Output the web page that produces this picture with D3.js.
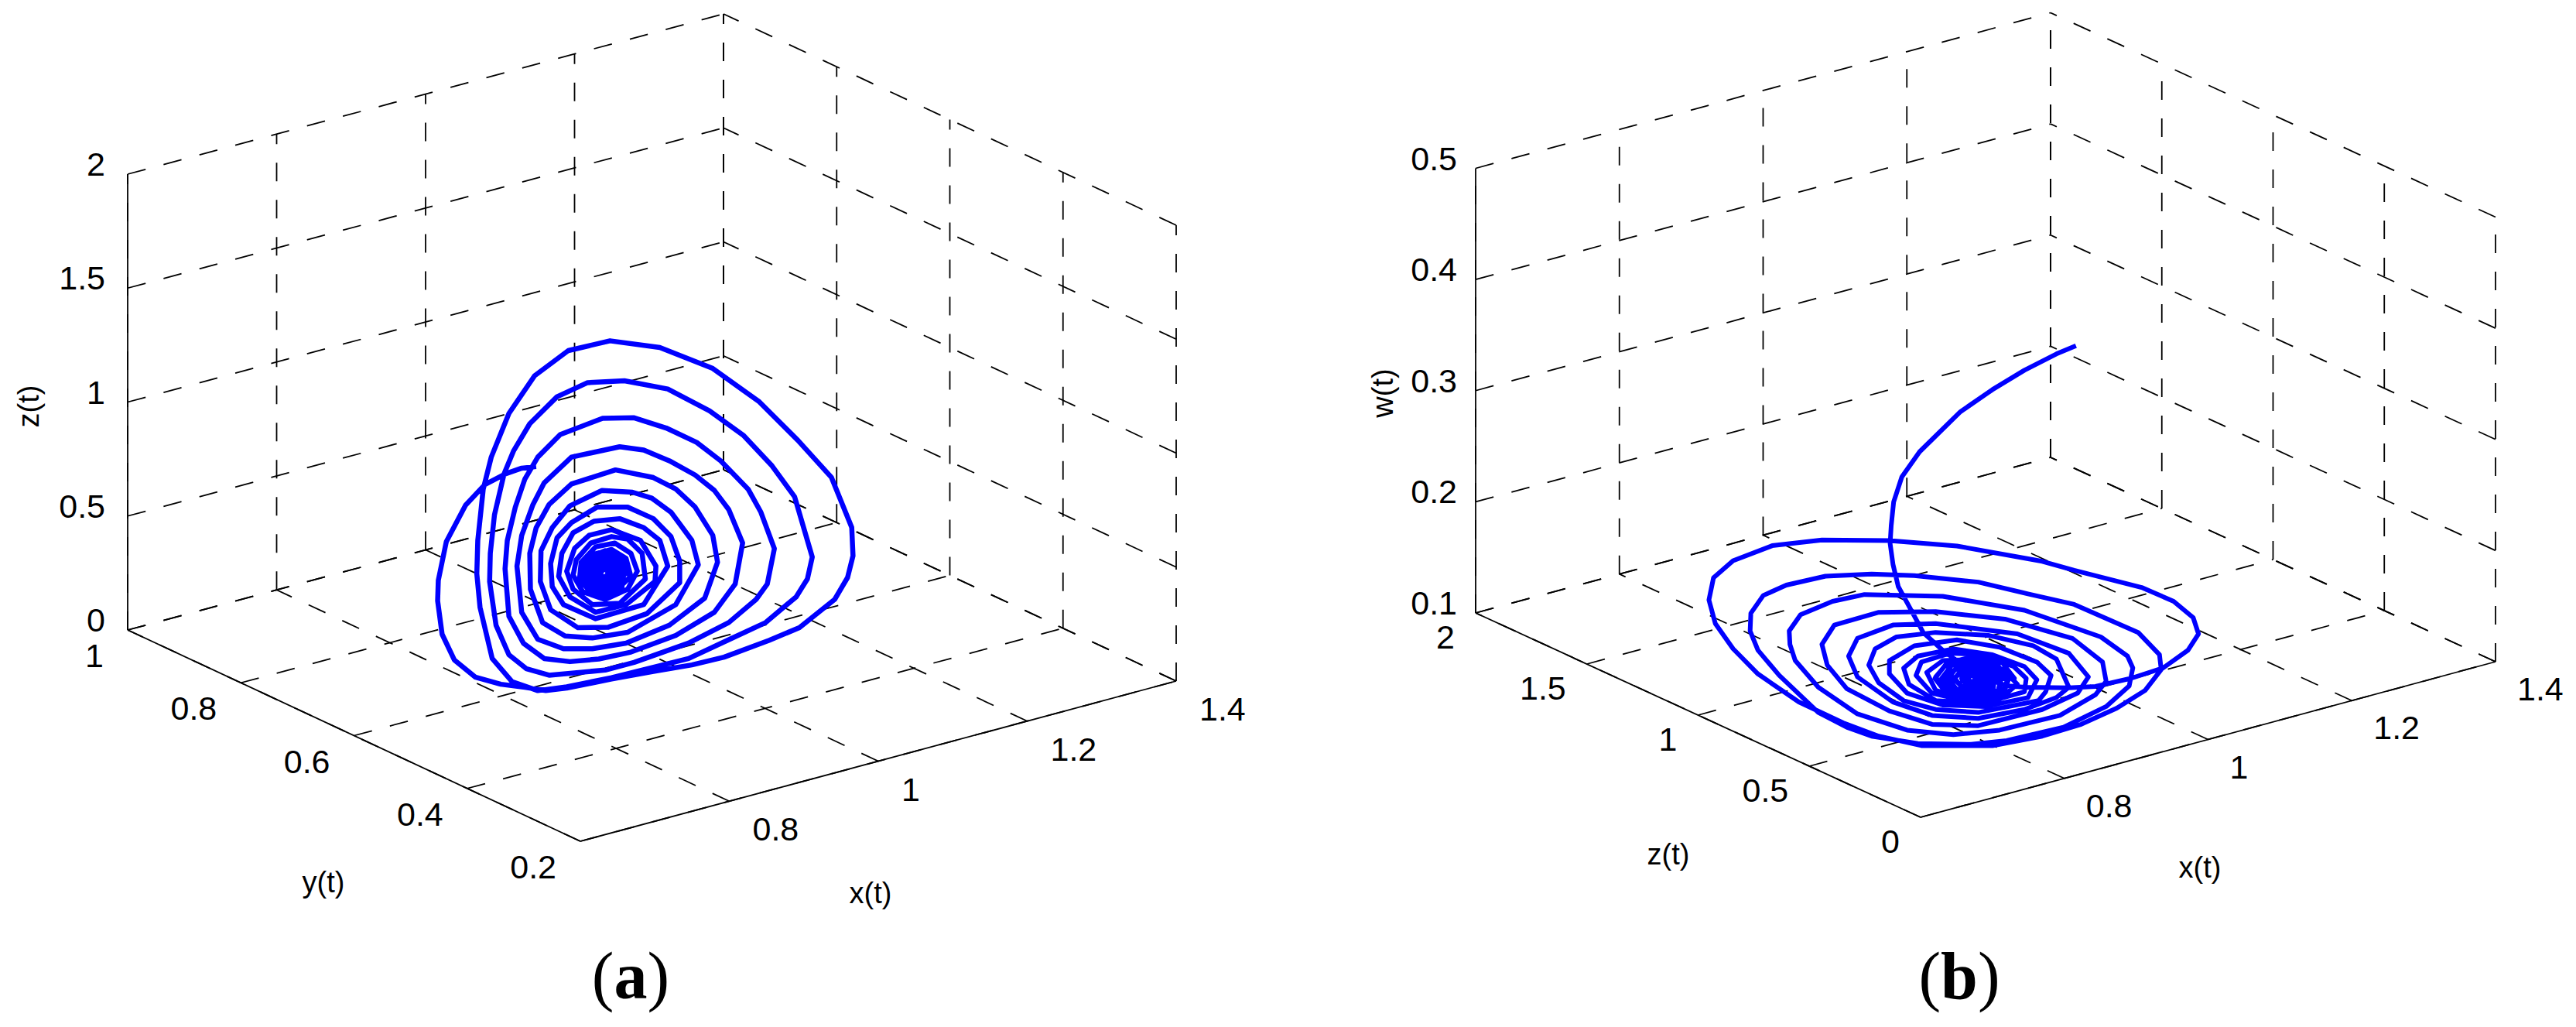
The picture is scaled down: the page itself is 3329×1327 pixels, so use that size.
<!DOCTYPE html>
<html>
<head>
<meta charset="utf-8">
<script src="https://cdn.jsdelivr.net/npm/d3@7/dist/d3.min.js"></script>
<style>
  html, body { margin: 0; padding: 0; background: #fff; }
  svg { display: block; }
  text { font-family: "Liberation Sans", Arial, sans-serif; fill: #000; }
  .panel-label { font-family: "Liberation Serif", serif; }
</style>
</head>
<body>
<svg id="chart" width="3329" height="1327"></svg>
<script>
// tick labels
var aXTicks = [0.6, 0.8, 1, 1.2, 1.4];
var aYTicks = [0.2, 0.4, 0.6, 0.8, 1];
var aZTicks = [0, 0.5, 1, 1.5, 2];
var bXTicks = [0.6, 0.8, 1, 1.2, 1.4];
var bZTicks = [0, 0.5, 1, 1.5, 2];
var bWTicks = [0.1, 0.2, 0.3, 0.4, 0.5];

// depth can't be read from one view, so y(t) and z(t) are held at one estimate
var aTraceY = 0.5;
var bTraceZ = 0.9;

var aTraceX = [
  .7686,.7492,.7277,.6997,.6738,.6479,.6372,.6363,.6423,.6587,.6867,.7212,.7535,.7815,.8096,.8699,.9259,.9777,1.0208,1.0811,1.1220,1.1694,1.1867,1.1940,1.1923,1.1651,1.1199,1.0682,1.0057,.9346,.8677,.8117,.7665,.7320,.7083,.6975,.6902,.6889,.6932,.7096,.7363,.7708,.8096,.8699,.9733,1.0251,1.0768,1.1177,1.1328,1.1393,1.1156,1.0854,1.0466,1.0014,.9453,.8871,.8376,.7966,.7600,.7384,.7255,.7126,.7070,.7061,.7147,.7320,.7557,.7859,.8613,.9001,.9733,1.0272,1.0639,1.0789,1.0884,1.0703,1.0531,1.0164,.9841,.9432,.9001,.8578,.8009,.7708,.7535,.7406,.7298,.7268,.7320,.7514,.7794,.8139,.8527,.8958,.9561,1.0078,1.0358,1.0458,1.0272,1.0078,.9820,.9475,.9130,.8807,.8160,.7794,.7643,.7492,.7428,.7492,.7708,.8053,.8440,.8893,.9475,.9949,1.0121,1.0057,.9820,.9561,.9259,.8751,.8160,.7859,.7686,.7600,.7609,.7772,.8074,.8440,.8915,.9561,.9863,.9777,.9496,.9238,.8979,.8570,.8139,.7902,.7751,.7742,.7880,.8246,.8656,.9173,.9613,.9613,.9496,.9259,.8915,.8505,.8160,.7966,.7880,.7902,.8053,.8484,.9130,.9453,.9346,.9130,.8807,.8462,.8182,.8031,.7988,.8139,.8484,.8893,.9281,.9294,.9087,.8699,.8397,.8203,.8096,.8182,.8440,.8807,.9152,.9108,.8915,.8699,.8419,.8225,.8182,.8311,.8613,.8915,.9044,.8958,.8742,.8484,.8290,.8268,.8440,.8721,.8958,.8893,.8699,.8440,.8311,.8376,.8613,.8850,.8828,.8656,.8462,.8397,.8527,.8721,.8764,.8634,.8505,.8548,.8677,.8634,
  .8925,.8831,.8613,.8395,.8301,.8395,.8613,.8831,
  .8863,.8787,.8613,.8439,.8363,.8439,.8613,.8787,
  .8800,.8744,.8613,.8482,.8426,.8482,.8613,.8744,
  .8738,.8700,.8613,.8526,.8488,.8526,.8613,.8700,
  .8675,.8657,.8613,.8569,.8551,.8569,.8613,.8657,
  .8634,.8613
];
var aTraceZ = [
  1.1481,1.1583,1.1525,1.1298,1.0624,.9241,.7646,.6753,.5236,.3966,.2966,.2348,.1930,.1538,.1404,.1270,.1116,.0944,.0904,.1107,.1311,.2133,.2939,.3831,.5086,.7520,.9549,1.1691,1.3703,1.5251,1.6129,1.6192,1.5486,1.4134,1.2426,1.1114,.8926,.7474,.5972,.3576,.2329,.1632,.1461,.1326,.1263,.1598,.1933,.2699,.3355,.4255,.7109,.8725,1.0417,1.1883,1.3331,1.4203,1.4558,1.4299,1.3437,1.2444,1.1544,.9856,.8216,.6984,.4995,.3549,.2722,.2175,.1740,.1736,.1939,.2367,.3059,.3603,.5074,.6831,.7995,.9556,1.0649,1.1639,1.2467,1.2816,1.2605,1.1878,1.1073,.9948,.8578,.7366,.5238,.3885,.2964,.2526,.2299,.2225,.2428,.2987,.3981,.5695,.7321,.8336,.9238,1.0161,1.0936,1.1365,1.1481,1.0677,.9852,.8633,.7339,.5255,.3884,.3165,.2825,.2676,.2954,.3720,.5146,.6384,.7831,.8846,.9618,1.0401,1.0299,.9663,.8801,.7751,.6167,.4560,.3709,.3298,.3130,.3779,.5259,.6405,.7890,.8735,.9221,.9659,.9361,.8612,.7732,.6387,.5028,.3919,.3582,.3725,.4691,.5648,.6820,.7816,.8625,.8984,.8610,.8106,.7055,.6022,.5102,.4105,.4157,.5562,.6783,.7535,.8212,.8402,.8142,.7373,.6398,.5364,.4386,.4365,.5038,.5702,.7010,.7823,.7840,.7447,.6528,.5665,.4762,.4496,.5264,.6428,.7217,.7519,.7483,.6921,.6284,.5438,.4836,.5022,.5697,.6560,.7199,.7257,.6752,.6039,.5212,.5023,.5547,.6392,.6956,.6958,.6451,.5719,.5230,.5529,.6224,.6712,.6601,.6151,.5587,.5586,.5998,.6394,.6281,.5849,.5849,.6112,
  .5688,.6483,.6981,.6867,.6236,.5441,.4943,.5057,
  .5743,.6379,.6777,.6686,.6181,.5545,.5147,.5238,
  .5798,.6275,.6573,.6505,.6126,.5649,.5351,.5419,
  .5852,.6171,.6370,.6324,.6072,.5753,.5554,.5600,
  .5907,.6066,.6166,.6143,.6017,.5858,.5758,.5781,
  .5944,.5962
];

var bTraceX = [
  1.0948,1.0676,1.0231,.9786,.9341,.8772,.8525,.8411,.8377,.8362,.8402,.8476,.8599,.8822,.9094,.9341,.9638,.9984,1.0231,1.0849,1.1220,1.1714,1.2159,1.2505,1.2653,
  1.2579,1.2307,1.1862,1.0923,1.0478,.9291,.8352,.7413,.6721,.6177,.5905,.5841,.5930,.6177,.6523,.7091,.7709,.8204,.8797,.9786,1.0478,1.1022,1.1516,1.1912,1.2134,
  1.2110,1.1813,1.0923,1.0280,.9588,.8698,.8105,.7462,.6918,.6597,.6424,.6414,.6523,.6819,.7363,.7759,.8105,.8748,.9489,.9984,1.0775,1.1368,1.1689,
  1.1739,1.1665,1.1294,1.0231,.9094,.8006,.7561,.7116,.6958,.6968,.7042,.7363,.7907,.8599,.9242,.9885,1.0725,1.1220,
  1.1368,1.1318,1.0898,.9959,.8995,.8204,.7586,.7413,.7487,.7759,.8352,.8945,.9588,1.0478,1.0972,
  1.1121,1.0849,1.0132,.8995,.8402,.7907,.7784,.7907,.8402,.8945,.9588,1.0231,1.0676,
  1.0849,1.0676,1.0354,.9736,.8995,.8451,.8154,.8065,.8204,.8550,.8995,.9588,1.0429,
  1.0527,1.0602,1.0404,.9885,.9291,.8698,.8352,.8352,.8599,.9094,.9687,1.0280,
  1.0404,1.0231,.9786,.9242,.8748,.8550,.8624,.8995,.9638,1.0231,
  1.0256,1.0082,.9638,.9193,.8797,.8723,.8945,.9390,.9885,
  1.0132,.9934,.9539,.9094,.8871,.8995,.9440,.9934,
  1.0008,.9786,.9440,.9118,.8995,.9143,.9489,.9885,
  .9909,.9687,.9390,.9168,.9118,.9291,.9539,.9786,
  .9786,.9588,.9366,.9242,.9366,.9588,.9712,
  .9613,.9440,.9366,.9514,.9613,.9539,
  1.0092,.9927,.9539,.9151,.8986,.9151,.9539,.9927,
  1.0000,.9862,.9539,.9216,.9078,.9216,.9539,.9862,
  .9907,.9798,.9539,.9280,.9171,.9280,.9539,.9798,
  .9815,.9733,.9539,.9345,.9263,.9345,.9539,.9733,
  .9723,.9668,.9539,.9410,.9355,.9410,.9539,.9668,
  .9631,.9604,.9539,.9474,.9447,.9474,.9539,.9604
];
var bTraceW = [
  .3550,.3523,.3454,.3358,.3237,.2976,.2793,.2587,.2379,.2222,.2028,.1815,.1648,.1342,.1134,.0971,.0799,.0659,.0602,.0489,.0437,.0423,.0438,.0537,.0659,
  .0818,.1012,.1215,.1534,.1692,.2038,.2250,.2420,.2490,.2450,.2345,.2156,.1928,.1658,.1371,.1019,.0723,.0517,.0328,.0155,.0119,.0131,.0190,.0281,.0429,
  .0567,.0819,.1227,.1434,.1661,.1875,.1992,.2086,.2101,.2064,.1934,.1776,.1584,.1306,.0877,.0675,.0534,.0356,.0218,.0166,.0147,.0230,.0360,
  .0512,.0632,.0869,.1295,.1619,.1826,.1842,.1800,.1681,.1559,.1400,.1104,.0769,.0502,.0349,.0277,.0263,.0362,
  .0456,.0639,.0926,.1263,.1499,.1631,.1625,.1481,.1282,.1022,.0718,.0494,.0369,.0359,.0420,
  .0540,.0800,.1100,.1392,.1482,.1449,.1310,.1102,.0789,.0574,.0435,.0402,.0432,
  .0494,.0778,.0954,.1155,.1312,.1367,.1312,.1181,.0997,.0776,.0619,.0488,.0448,
  .0510,.0644,.0799,.1023,.1193,.1243,.1171,.1051,.0835,.0641,.0524,.0501,
  .0639,.0789,.0973,.1121,.1142,.1069,.0910,.0699,.0559,.0562,
  .0678,.0815,.0999,.1090,.1080,.0973,.0774,.0629,.0556,
  .0647,.0814,.0976,.1041,.0973,.0792,.0621,.0587,
  .0708,.0867,.0968,.0984,.0912,.0766,.0639,.0636,
  .0752,.0870,.0936,.0921,.0864,.0740,.0670,.0680,
  .0773,.0862,.0887,.0855,.0754,.0702,.0733,
  .0803,.0848,.0807,.0755,.0763,.0795,
  .0707,.0873,.1004,.1008,.0899,.0733,.0602,.0598,
  .0723,.0862,.0970,.0974,.0883,.0744,.0636,.0632,
  .0739,.0850,.0937,.0940,.0867,.0756,.0669,.0666,
  .0755,.0838,.0903,.0906,.0851,.0768,.0703,.0700,
  .0771,.0826,.0870,.0871,.0835,.0780,.0736,.0735,
  .0787,.0815,.0836,.0837,.0819,.0791,.0770,.0769
];

var svg = d3.select("#chart");

// one MATLAB style 3-d box: x runs along the front-right edge, y along the
// front-left edge, z straight up from the left corner
function drawPanel(p) {
  var g = svg.append("g");
  var fx = d3.scaleLinear().domain(d3.extent(p.xTicks)).range([0, 1]);
  var fy = d3.scaleLinear().domain(d3.extent(p.yTicks)).range([0, 1]);
  var fz = d3.scaleLinear().domain(d3.extent(p.zTicks)).range([0, p.height]);

  function project(x, y, z) {
    return [
      p.front[0] + fx(x) * (p.right[0] - p.front[0]) + fy(y) * (p.left[0] - p.front[0]),
      p.front[1] + fx(x) * (p.right[1] - p.front[1]) + fy(y) * (p.left[1] - p.front[1]) - fz(z)
    ];
  }
  var seg = d3.line();
  var x0 = fx.domain()[0], x1 = fx.domain()[1];
  var y0 = fy.domain()[0], y1 = fy.domain()[1];
  var z0 = fz.domain()[0], z1 = fz.domain()[1];

  var grid = [];
  p.xTicks.forEach(function(x) {
    grid.push([project(x, y0, z0), project(x, y1, z0)]);
    grid.push([project(x, y1, z0), project(x, y1, z1)]);
  });
  p.yTicks.forEach(function(y) {
    grid.push([project(x0, y, z0), project(x1, y, z0)]);
    grid.push([project(x1, y, z0), project(x1, y, z1)]);
  });
  p.zTicks.forEach(function(z) {
    grid.push([project(x0, y1, z), project(x1, y1, z)]);
    grid.push([project(x1, y0, z), project(x1, y1, z)]);
  });
  g.selectAll("path.grid").data(grid).enter().append("path")
    .attr("class", "grid")
    .attr("d", seg)
    .attr("fill", "none")
    .attr("stroke", "#000")
    .attr("stroke-width", 1.8)
    .attr("stroke-dasharray", "24 24");

  var axes = [
    [project(x0, y0, z0), project(x1, y0, z0)],
    [project(x0, y0, z0), project(x0, y1, z0)],
    [project(x0, y1, z0), project(x0, y1, z1)]
  ];
  g.selectAll("path.axis").data(axes).enter().append("path")
    .attr("class", "axis")
    .attr("d", seg)
    .attr("fill", "none")
    .attr("stroke", "#000")
    .attr("stroke-width", 1.8);

  // tick labels
  function tickText(list, at, dx, dy, anchor, skip) {
    g.selectAll(null).data(list.filter(function(d) { return d !== skip; })).enter().append("text")
      .attr("x", function(d) { return at(d)[0] + dx; })
      .attr("y", function(d) { return at(d)[1] + dy; })
      .attr("text-anchor", anchor)
      .attr("font-size", p.tickSize)
      .text(function(d) { return d; });
  }
  tickText(p.xTicks, function(d) { return project(d, y0, z0); }, p.xOff[0], p.xOff[1], "start", p.xTicks[0]);
  tickText(p.yTicks, function(d) { return project(x0, d, z0); }, p.yOff[0], p.yOff[1], "end");
  tickText(p.zTicks, function(d) { return project(x0, y1, d); }, p.zOff[0], p.zOff[1], "end");

  // axis titles
  g.selectAll(null).data(p.titles).enter().append("text")
    .attr("transform", function(d) { return "translate(" + d.at + ")" + (d.rotate ? " rotate(-90)" : ""); })
    .attr("text-anchor", "middle")
    .attr("font-size", p.titleSize)
    .text(function(d) { return d.text; });

  // trajectory
  var pts = p.traceX.map(function(x, i) { return project(x, p.traceDepth, p.traceUp[i]); });
  g.append("path")
    .attr("d", seg(pts))
    .attr("fill", "none")
    .attr("stroke", "#0000ff")
    .attr("stroke-width", p.traceWidth)
    .attr("stroke-linejoin", "round");

  // panel letter
  var lab = g.append("text")
    .attr("class", "panel-label")
    .attr("x", p.letterAt[0])
    .attr("y", p.letterAt[1])
    .attr("text-anchor", "middle")
    .attr("font-size", 86);
  lab.append("tspan").text("(");
  lab.append("tspan").attr("font-weight", "bold").text(p.letter);
  lab.append("tspan").text(")");
}

drawPanel({
  xTicks: aXTicks, yTicks: aYTicks, zTicks: aZTicks,
  front: [750, 1087], right: [1520, 880], left: [165, 814], height: 589,
  tickSize: 43, titleSize: 38, traceWidth: 6.5,
  xOff: [30, 51], yOff: [-31, 48], zOff: [-29, 2],
  titles: [
    { text: "z(t)", at: [50, 525], rotate: true },
    { text: "y(t)", at: [418, 1153] },
    { text: "x(t)", at: [1125, 1167] }
  ],
  traceX: aTraceX, traceUp: aTraceZ, traceDepth: aTraceY,
  letter: "a", letterAt: [815, 1290]
});

drawPanel({
  xTicks: bXTicks, yTicks: bZTicks, zTicks: bWTicks,
  front: [2482, 1056], right: [3225, 855], left: [1907, 792], height: 574.5,
  tickSize: 43, titleSize: 38, traceWidth: 6,
  xOff: [28, 50], yOff: [-27, 46], zOff: [-24, 2],
  titles: [
    { text: "w(t)", at: [1800, 508], rotate: true },
    { text: "z(t)", at: [2156, 1117] },
    { text: "x(t)", at: [2843, 1134] }
  ],
  traceX: bTraceX, traceUp: bTraceW, traceDepth: bTraceZ,
  letter: "b", letterAt: [2532, 1290]
});
</script>
</body>
</html>
